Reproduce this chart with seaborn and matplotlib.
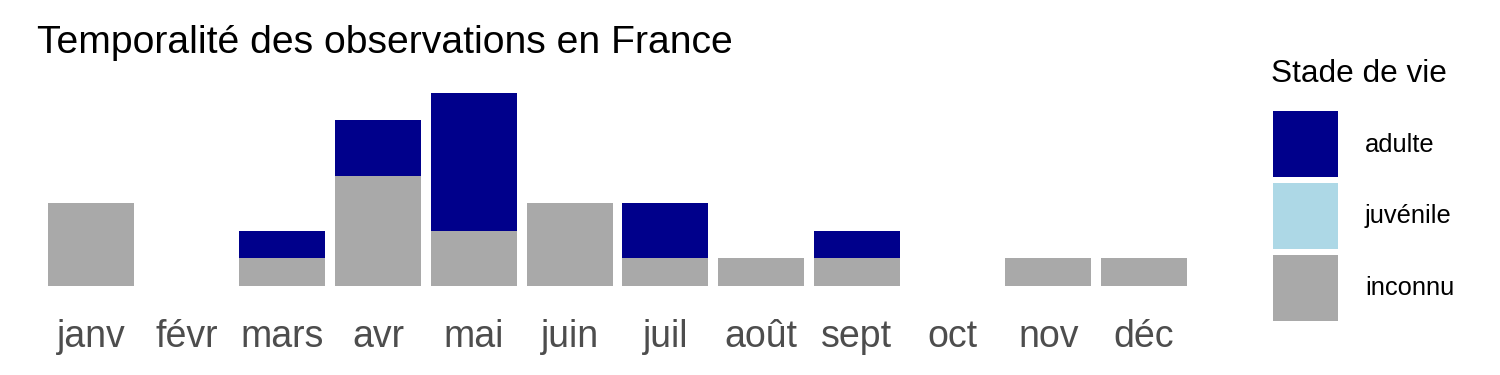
import matplotlib
matplotlib.use("Agg")
import matplotlib.pyplot as plt
from matplotlib.patches import Patch
import seaborn as sns
import pandas as pd

months = ["janv", "févr", "mars", "avr", "mai", "juin", "juil", "août", "sept", "oct", "nov", "déc"]
adulte = [0, 0, 1, 2, 5, 0, 2, 0, 1, 0, 0, 0]
juvenile = [0, 0, 0, 0, 0, 0, 0, 0, 0, 0, 0, 0]
inconnu = [3, 0, 1, 4, 2, 3, 1, 1, 1, 0, 1, 1]

stages = ["adulte", "juvénile", "inconnu"]
colors = {"adulte": "#00008B", "juvénile": "#ADD8E6", "inconnu": "#A9A9A9"}

df = pd.DataFrame({"mois": months, "adulte": adulte, "juvénile": juvenile, "inconnu": inconnu})
df["total"] = df["adulte"] + df["juvénile"] + df["inconnu"]
df["low2"] = df["juvénile"] + df["inconnu"]

sns.set_theme(style="white")
plt.rcParams["font.family"] = ["Liberation Sans", "DejaVu Sans"]

fig = plt.figure(figsize=(15, 3.75), dpi=100)
ax = fig.add_axes([0.0223, 0.2115, 0.801 - 0.0223, 0.778 - 0.2115])

kw = dict(width=0.9, ax=ax, saturation=1, order=months, linewidth=0)
sns.barplot(data=df, x="mois", y="total", color=colors["adulte"], **kw)
sns.barplot(data=df, x="mois", y="low2", color=colors["juvénile"], **kw)
sns.barplot(data=df, x="mois", y="inconnu", color=colors["inconnu"], **kw)

ax.set_xlim(-0.6, 11.6)
ax.set_ylim(-0.35, 7.35)
ax.set_xlabel("")
ax.set_ylabel("")
ax.set_yticks([])
ax.tick_params(axis="x", length=0, pad=16.5, labelsize=27, labelcolor="#4D4D4D")
for s in ax.spines.values():
    s.set_visible(False)

fig.text(0.0245, 0.885, "Temporalité des observations en France", fontsize=28.2, va="center", ha="left", color="black")
fig.text(0.8473, 0.803, "Stade de vie", fontsize=22.7, va="center", ha="left", color="black")

handles = [Patch(facecolor=colors[s], edgecolor="none", linewidth=0) for s in stages]
leg = fig.legend(handles, stages, loc="upper left", bbox_to_anchor=(0.8487, 0.7027),
                 frameon=False, fontsize=18.4,
                 handlelength=2.54, handleheight=3.59, labelspacing=0.23, handletextpad=1.05,
                 borderaxespad=0, borderpad=0)
for t in leg.get_texts():
    t.set_color("black")

fig.savefig("out.png", dpi=100)
